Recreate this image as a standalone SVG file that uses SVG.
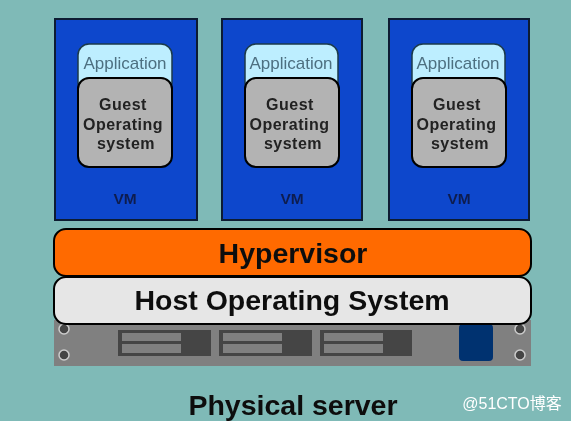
<svg xmlns="http://www.w3.org/2000/svg" width="571" height="421" viewBox="0 0 571 421">
<style>
text{font-family:"Liberation Sans",Arial,sans-serif;text-anchor:middle}
.vm{fill:#0847cc;stroke:#0a1a30;stroke-width:2}
.app{fill:#bdeeff;stroke:#1d3a4a;stroke-width:1.5}
.os{fill:#b3b3b3;stroke:#000;stroke-width:2}
.at{font-size:17px;fill:#4d6f80}
.gt{font-size:16px;font-weight:bold;fill:#222;letter-spacing:.5px}
.vt{font-size:15.500px;font-weight:bold;fill:#0a1f50}
.big{font-size:28.500px;font-weight:bold;fill:#111}
.slot{fill:#444}
.bar{fill:#808080}
.hole{fill:#444;stroke:#ccc;stroke-width:1.5}
</style>
<defs><filter id="soft" filterUnits="userSpaceOnUse" x="0" y="0" width="571" height="421"><feGaussianBlur stdDeviation="0.6"/></filter></defs>
<rect width="571" height="421" fill="#7fbab7"/>
<g filter="url(#soft)">
<g id="server">
<rect x="54" y="320" width="477" height="46" fill="#808080"/>
<circle class="hole" cx="64" cy="329" r="5"/><circle class="hole" cx="64" cy="355" r="5"/>
<circle class="hole" cx="520" cy="329" r="5"/><circle class="hole" cx="520" cy="355" r="5"/>
<rect class="slot" x="118" y="330" width="93" height="26"/>
<rect class="bar" x="122" y="333" width="59" height="8"/><rect class="bar" x="122" y="344" width="59" height="9"/>
<rect class="slot" x="219" y="330" width="93" height="26"/>
<rect class="bar" x="223" y="333" width="59" height="8"/><rect class="bar" x="223" y="344" width="59" height="9"/>
<rect class="slot" x="320" y="330" width="92" height="26"/>
<rect class="bar" x="324" y="333" width="59" height="8"/><rect class="bar" x="324" y="344" width="59" height="9"/>
<rect x="459" y="324" width="34" height="37" rx="4" fill="#003070"/>
</g>
<g id="vm1">
<rect class="vm" x="55" y="19" width="142" height="201"/>
<rect class="app" x="78" y="44" width="94" height="50" rx="11"/>
<text class="at" x="125" y="69">Application</text>
<rect class="os" x="78" y="78" width="94" height="89" rx="11"/>
<text class="gt" x="123" y="110">Guest</text><text class="gt" x="123" y="130">Operating</text><text class="gt" x="126" y="149">system</text>
<text class="vt" x="125" y="204">VM</text>
</g>
<g id="vm2">
<rect class="vm" x="222" y="19" width="140" height="201"/>
<rect class="app" x="245" y="44" width="93" height="50" rx="11"/>
<text class="at" x="291" y="69">Application</text>
<rect class="os" x="245" y="78" width="94" height="89" rx="11"/>
<text class="gt" x="290" y="110">Guest</text><text class="gt" x="289.500" y="130">Operating</text><text class="gt" x="293" y="149">system</text>
<text class="vt" x="292" y="204">VM</text>
</g>
<g id="vm3">
<rect class="vm" x="389" y="19" width="140" height="201"/>
<rect class="app" x="412" y="44" width="93" height="50" rx="11"/>
<text class="at" x="458" y="69">Application</text>
<rect class="os" x="412" y="78" width="94" height="89" rx="11"/>
<text class="gt" x="457" y="110">Guest</text><text class="gt" x="456.500" y="130">Operating</text><text class="gt" x="460" y="149">system</text>
<text class="vt" x="459" y="204">VM</text>
</g>
<g id="hypervisor">
<rect x="54" y="229" width="477" height="47" rx="12" fill="#ff6a00" stroke="#000" stroke-width="2"/>
<text class="big" x="293" y="263">Hypervisor</text>
</g>
<g id="host-os">
<rect x="54" y="277" width="477" height="47" rx="12" fill="#e6e6e6" stroke="#000" stroke-width="2"/>
<text class="big" x="292" y="310">Host Operating System</text>
</g>
<g id="labels">
<text class="big" x="293" y="415">Physical server</text>
<text x="512" y="409" font-size="16" fill="#fff" style="font-family:'Liberation Sans','Noto Sans CJK SC',sans-serif">@51CTO博客</text>
</g>
</g>
</svg>
